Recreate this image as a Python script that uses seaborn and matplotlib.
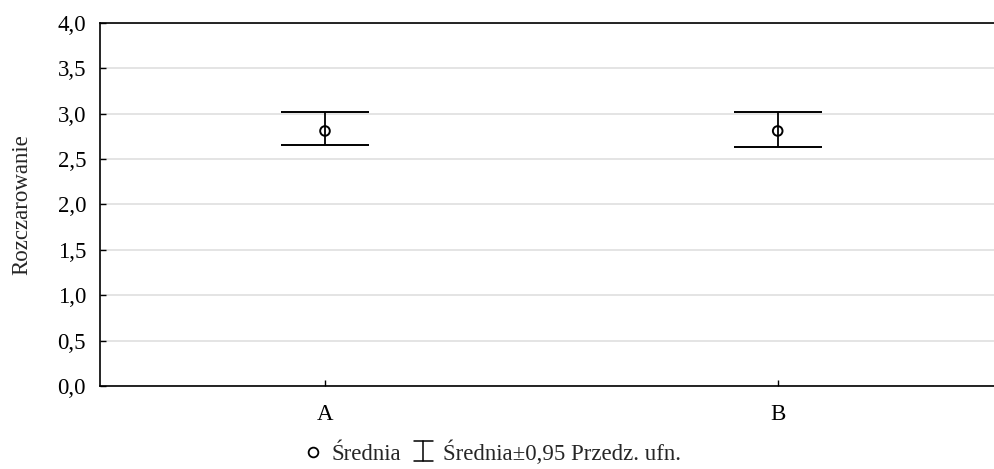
import matplotlib
matplotlib.use("Agg")
import matplotlib.pyplot as plt
import seaborn as sns
import pandas as pd
from matplotlib.lines import Line2D
from matplotlib.legend_handler import HandlerBase

# Group means and 95% confidence bounds
groups = ["A", "B"]
means = [2.81, 2.81]
ci_low = [2.65, 2.63]
ci_high = [3.02, 3.02]

y_ticks = [0.0, 0.5, 1.0, 1.5, 2.0, 2.5, 3.0, 3.5, 4.0]
y_tick_labels = ["0,0", "0,5", "1,0", "1,5", "2,0", "2,5", "3,0", "3,5", "4,0"]
y_label = "Rozczarowanie"
legend_mean = "Średnia"
legend_ci = "Średnia±0,95 Przedz. ufn."

FS = 16.5

sns.set_theme(style="white")
plt.rcParams["font.family"] = ["Liberation Serif", "DejaVu Serif"]


class IBeamHandler(HandlerBase):
    """Legend key drawn as a vertical bar with end caps."""
    def create_artists(self, legend, orig_handle, xdescent, ydescent,
                       width, height, fontsize, trans):
        cx = width / 2 - xdescent
        y0 = -ydescent - 0.1 * height
        y1 = -ydescent + 1.15 * height
        hw = width * 0.45
        kw = dict(color="black", lw=1.1, transform=trans)
        return [Line2D([cx, cx], [y0, y1], **kw),
                Line2D([cx - hw, cx + hw], [y0, y0], **kw),
                Line2D([cx - hw, cx + hw], [y1, y1], **kw)]


df = pd.DataFrame({"grupa": groups, "srednia": means})

fig = plt.figure(figsize=(9.95, 4.69), dpi=100)
ax = fig.add_axes([0.1005, 0.177, 0.8995, 0.774])

# horizontal grid
for t in y_ticks:
    ax.axhline(t, color="#dcdcdc", lw=1.1, zorder=0)

yerr = [[m - lo for m, lo in zip(means, ci_low)],
        [hi - m for m, hi in zip(means, ci_high)]]
ax.errorbar(range(len(groups)), means, yerr=yerr, fmt="none",
            ecolor="black", elinewidth=1.3, capsize=32, capthick=1.4,
            zorder=2)
sns.scatterplot(data=df, x="grupa", y="srednia", ax=ax, marker="o", s=48,
                facecolor="none", edgecolor="black", linewidth=1.4,
                zorder=3, legend=False)

ax.set_ylim(0, 4.0)
ax.set_xlim(-0.497, 1.48)
ax.set_yticks(y_ticks)
ax.set_yticklabels(y_tick_labels)
ax.set_xticks(range(len(groups)))
ax.set_xticklabels(groups)
ax.set_xlabel("")
ax.set_ylabel(y_label, fontsize=FS, labelpad=18)

ax.tick_params(axis="both", direction="in", length=4, width=1, color="black",
               labelsize=FS, labelcolor="black", left=True, bottom=True)
ax.tick_params(axis="y", pad=10)
ax.tick_params(axis="x", pad=13)
for side in ["left", "top", "bottom"]:
    ax.spines[side].set_visible(True)
    ax.spines[side].set_color("black")
    ax.spines[side].set_linewidth(1.2)
ax.spines["right"].set_visible(False)

h_mean = Line2D([], [], marker="o", ls="none", markerfacecolor="none",
                markeredgecolor="black", markersize=7, markeredgewidth=1.3)
h_ci = object()
fig.legend([h_mean, h_ci], [legend_mean, legend_ci], loc="lower center",
           bbox_to_anchor=(0.494, -0.035), ncol=2, frameon=False,
           fontsize=FS, handlelength=0.9, handletextpad=0.4,
           columnspacing=0.5, handler_map={object: IBeamHandler()})

fig.savefig("out.png", dpi=100)
